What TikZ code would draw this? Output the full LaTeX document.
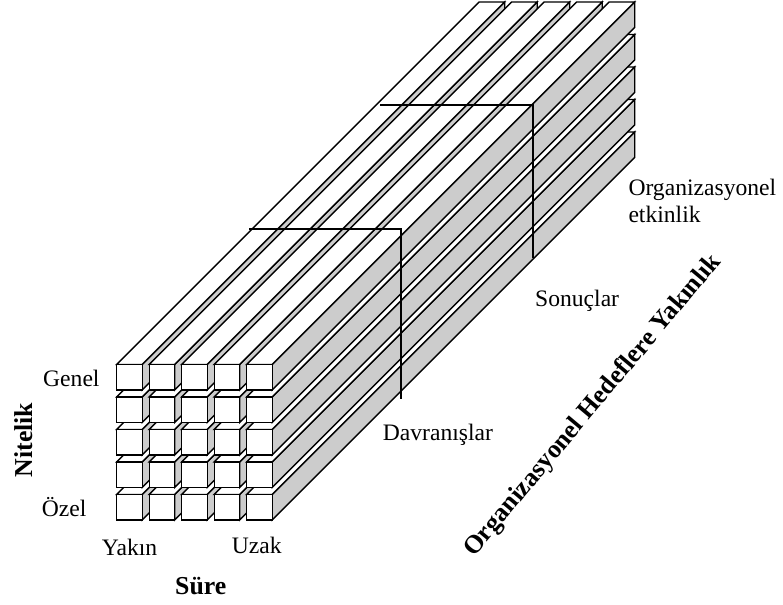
\documentclass[tikz,border=0pt]{standalone}
\usepackage{fontspec}
\setmainfont{Liberation Serif}
\definecolor{barshade}{gray}{0.8}
\begin{document}
\begin{tikzpicture}[x=1pt,y=-1pt,
  edge/.style={line width=1.4pt, line join=miter},
  side/.style={edge, draw=black, fill=barshade},
  face/.style={edge, draw=black, fill=white},
  slice/.style={line width=1.3pt},
  lbl/.style={inner sep=0pt, font=\fontsize{23.6}{27}\selectfont},
  axis/.style={inner sep=0pt, font=\fontsize{25.8}{30}\selectfont\bfseries}]
\useasboundingbox (0,0) rectangle (783,604);
\def\w{25.5}
\def\dep{362.5}
% 5 x 5 bundle of long square bars, painted back to front
\foreach \r in {4,3,2,1,0}{
  \foreach \c in {0,...,4}{
    \pgfmathsetmacro\X{116.7+32.5*\c}
    \pgfmathsetmacro\Y{364.5+32.5*\r}
    % right side face
    \draw[side] (\X+\w,\Y) -- ++(\dep,-\dep) -- ++(0,\w) -- (\X+\w,\Y+\w) -- cycle;
    % top face
    \draw[face] (\X,\Y) -- ++(\dep,-\dep) -- ++(\w,0) -- (\X+\w,\Y) -- cycle;
    % front face
    \draw[face] (\X,\Y) rectangle (\X+\w,\Y+\w);
  }
}
% cross-section outlines
\draw[slice] (249,229) -- (401,229) -- (401,399);
\draw[slice] (380,105) -- (533,105) -- (533,258);
% labels
\node[lbl, anchor=base west] (genel) at (43,386) {Genel};
\node[lbl, anchor=base west] (ozel) at (41.7,516.7) {Özel};
\node[axis, rotate=90] (nitelik) at (24,440) {Nitelik};
\node[lbl, anchor=base west] (yakin) at (101.7,555) {Yakın};
\node[lbl, anchor=base west] (uzak) at (231.7,553.3) {Uzak};
\node[axis, anchor=base west] (sure) at (175,594) {Süre};
\node[lbl, anchor=base west] (davr) at (382.7,440) {Davranışlar};
\node[lbl, anchor=base west] (sonuc) at (535,306.7) {Sonuçlar};
\node[lbl, anchor=base west] (org1) at (628.3,195) {Organizasyonel};
\node[lbl, anchor=base west] (org2) at (628.3,222) {etkinlik};
\node[axis, rotate=50] (hedef) at (593,406) {Organizasyonel Hedeflere Yakınlık};
\end{tikzpicture}
\end{document}
